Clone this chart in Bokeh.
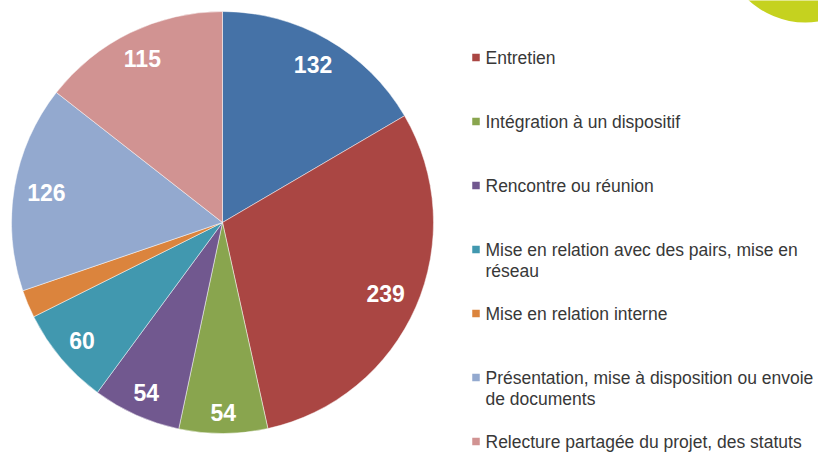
import numpy as np
from bokeh.plotting import figure
from bokeh.models import Range1d, ColumnDataSource
from bokeh.embed import file_html
from bokeh.resources import INLINE
from bokeh.core.properties import value

# ---- data ----
categories = [
    "(premier libellé, hors cadre)",
    "Entretien",
    "Intégration à un dispositif",
    "Rencontre ou réunion",
    "Mise en relation avec des pairs, mise en\nréseau",
    "Mise en relation interne",
    "Présentation, mise à disposition ou envoie\nde documents",
    "Relecture partagée du projet, des statuts",
]
values = [132, 239, 54, 54, 60, 17, 126, 115]
colors = ["#4572A7", "#AA4643", "#89A54E", "#71588F",
          "#4198AF", "#DB843D", "#93A9CF", "#D19392"]

# ---- layout ----
W, H = 818, 452
CX, CY, R = 222, H - 222, 211

p = figure(width=W, height=H, x_range=Range1d(0, W), y_range=Range1d(0, H),
           output_backend="svg", toolbar_location=None, min_border=0)
p.axis.visible = False
p.grid.visible = False
p.outline_line_color = None
p.background_fill_color = "white"
p.border_fill_color = "white"

# decorative circle (top right corner of the slide)
p.circle(x=[805], y=[H + 62], radius=84, fill_color="#C5D21F", line_color=None)

vals = np.array(values, dtype=float)
frac = vals / vals.sum()
a1 = np.cumsum(frac) * 2 * np.pi
a0 = a1 - frac * 2 * np.pi
src = ColumnDataSource(dict(start=np.pi / 2 - a1, end=np.pi / 2 - a0, color=colors))
p.wedge(x=CX, y=CY, radius=R, start_angle="start", end_angle="end",
        fill_color="color", line_color="white", line_width=0.6, line_alpha=0.8,
        source=src)

# data labels (inside end)
mid = (a0 + a1) / 2
lx, ly, lt = [], [], []
for v, m, f in zip(values, mid, frac):
    if f < 0.04:
        continue
    hw = 6.4 * len(str(v))
    hh = 8.5
    s, c = np.sin(m), np.cos(m)
    r = R - 12 - (hw * abs(s) + hh * abs(c))
    lx.append(CX + r * s)
    ly.append(CY + r * c)
    lt.append(str(v))
p.text(x=lx, y=ly, text=lt, text_color="white", text_font=value("Liberation Sans"),
       text_font_style="bold", text_font_size="23px", text_align="center",
       text_baseline="middle")

# legend
LX, LY0, DY = 475.5, H - 57, 64
sq_x, sq_y, sq_c = [], [], []
tx, ty, tt = [], [], []
for i, (name, col) in enumerate(zip(categories, colors)):
    y = LY0 - (i - 1) * DY
    if y > H:
        continue
    sq_x.append(LX)
    sq_y.append(y)
    sq_c.append(col)
    for k, line in enumerate(name.split("\n")):
        tx.append(LX + 9.5)
        ty.append(y - 21 * k)
        tt.append(line)
p.rect(x=sq_x, y=sq_y, width=7.5, height=7.5, fill_color=sq_c, line_color=None)
p.text(x=tx, y=ty, text=tt, text_color="#383838", text_font=value("Liberation Sans"),
       text_font_size="17.5px", text_align="left", text_baseline="middle")

open("out.html", "w").write(file_html(p, INLINE))
